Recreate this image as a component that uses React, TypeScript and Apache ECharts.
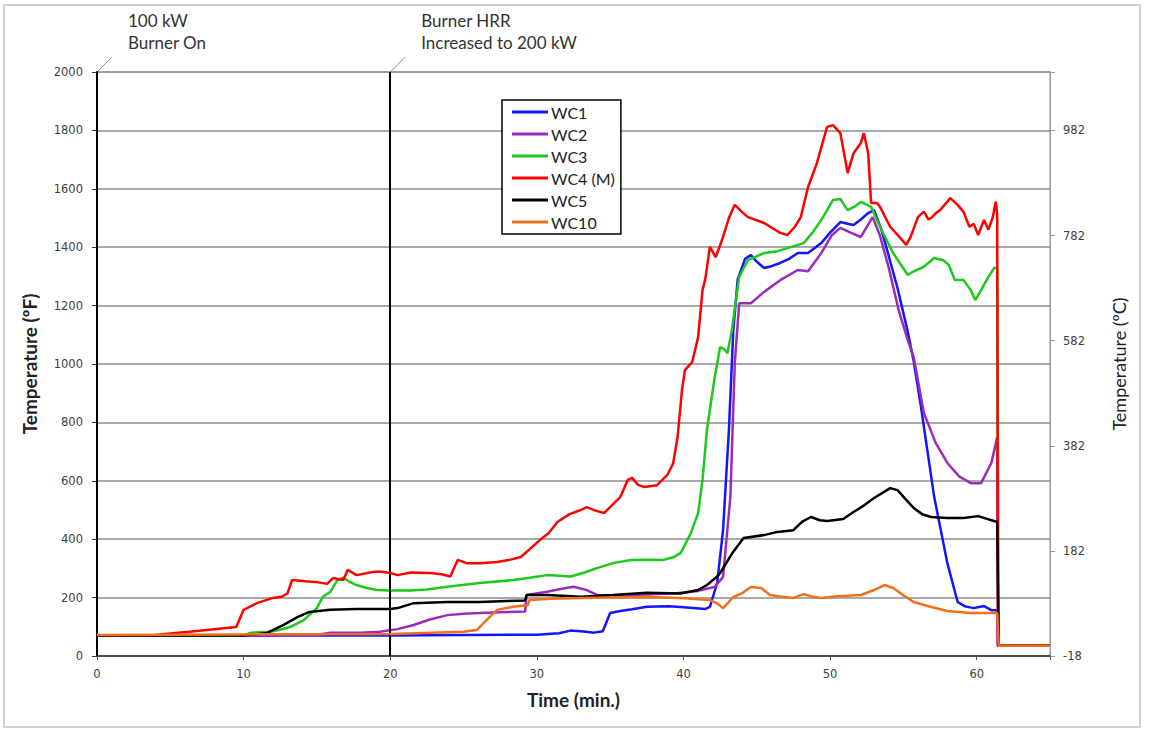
import { useEffect, useRef } from "react";
import * as echarts from "echarts";

// ---------- data ----------
const seriesNames = ["WC1", "WC2", "WC3", "WC4 (M)", "WC5", "WC10"];

const wc1: number[][] = [
  [0, 70], [10, 70], [20, 70], [25, 72], [30, 73], [31.5, 78], [32.3, 87], [33.2, 84], [33.9, 80], [34.5, 85],
  [35, 147], [35.7, 154], [36.5, 160], [37.5, 169], [39, 170], [39.8, 168], [41.5, 161], [41.8, 168], [42.3, 250],
  [42.7, 431], [43.1, 774], [43.4, 1116], [43.7, 1290], [44.2, 1360], [44.6, 1373], [45, 1350], [45.5, 1329],
  [46, 1335], [46.6, 1346], [47.2, 1360], [47.8, 1380], [48.5, 1380], [49.4, 1414], [50, 1450], [50.7, 1486],
  [51.2, 1480], [51.6, 1476], [52.1, 1495], [52.6, 1517], [53, 1527], [53.5, 1460], [54, 1370], [54.6, 1260],
  [55.3, 1110], [55.7, 1010], [56.2, 853], [57.1, 545], [58, 318], [58.7, 185], [59.2, 170], [59.8, 164],
  [60.5, 171], [61, 157], [61.4, 157], [61.45, 35], [65, 35],
];

const wc2: number[][] = [
  [0, 70], [10, 70], [15, 72], [15.9, 80], [18, 80], [19.3, 83], [20.5, 92], [21.6, 106], [22.7, 125], [23.9, 140],
  [25, 145], [26.1, 147], [27.5, 150], [29.2, 152], [29.3, 209], [30.7, 220], [31.7, 230], [32.5, 237], [33.4, 226],
  [34.1, 209], [35.5, 208], [37.5, 211], [39.5, 215], [41, 223], [42.1, 236], [42.7, 270], [43.2, 545], [43.5, 1002],
  [43.8, 1208], [44.6, 1208], [45.5, 1247], [46.6, 1287], [47.8, 1322], [48.5, 1318], [49.4, 1380], [50.1, 1440],
  [50.7, 1466], [51.4, 1450], [52.1, 1435], [52.9, 1503], [53.4, 1440], [54, 1330], [54.7, 1180], [55.3, 1082],
  [55.7, 1024], [56.4, 832], [57.2, 730], [58, 661], [58.8, 615], [59.6, 592], [60.3, 592], [61, 661], [61.4, 750],
  [61.45, 35], [65, 35],
];

const wc3: number[][] = [
  [0, 70], [10, 70], [10.5, 80], [11.8, 83], [12.5, 90], [13.2, 100], [14.1, 123], [15, 164], [15.4, 203], [15.9, 219],
  [16.4, 260], [16.8, 268], [17.2, 255], [17.7, 243], [18.4, 233], [19.1, 226], [20, 224], [21.4, 224], [22.5, 228],
  [23.9, 237], [26.1, 250], [28.4, 260], [29.5, 268], [30.7, 277], [32.3, 272], [33.2, 285], [34.1, 301], [35.2, 318],
  [36.4, 329], [37.5, 330], [38.6, 329], [39.3, 338], [39.8, 352], [40.5, 420], [41, 490], [41.3, 603], [41.6, 774],
  [42.1, 945], [42.5, 1058], [42.8, 1050], [43, 1037], [43.3, 1116], [43.8, 1298], [44.4, 1356], [45.5, 1380],
  [46.3, 1385], [47.1, 1397], [48.2, 1414], [48.8, 1450], [49.4, 1493], [50.2, 1562], [50.7, 1565], [51.2, 1527],
  [51.7, 1540], [52.1, 1555], [52.8, 1538], [53.4, 1470], [54.3, 1380], [55.3, 1305], [55.6, 1315], [56.4, 1333],
  [57.1, 1363], [57.7, 1356], [58.1, 1339], [58.5, 1288], [59.1, 1288], [59.6, 1253], [59.9, 1219], [60.3, 1253],
  [60.8, 1299], [61.2, 1329], [61.4, 1330], [61.5, 35], [65, 35],
];

const wc4: number[][] = [
  [0, 70], [4, 72], [5, 77], [6.3, 83], [8, 92], [9.5, 99], [10, 158], [10.9, 181], [12, 199], [12.6, 203], [13, 215],
  [13.3, 260], [14.2, 256], [15, 253], [15.7, 247], [16.1, 267], [16.8, 260], [17.1, 295], [17.7, 277], [18.8, 288],
  [19.3, 289], [20, 284], [20.5, 277], [21.4, 286], [22.7, 284], [23.5, 280], [24.1, 272], [24.6, 329], [25.2, 318],
  [26.1, 318], [27.3, 322], [28.2, 330], [28.9, 339], [29.5, 365], [30.2, 397], [30.8, 420], [31.4, 459], [32.2, 485],
  [33, 500], [33.4, 510], [34, 498], [34.6, 490], [35.2, 520], [35.7, 545], [36.2, 603], [36.5, 610], [36.9, 586],
  [37.3, 579], [38.2, 585], [38.9, 620], [39.3, 660], [39.6, 750], [39.9, 911], [40.1, 979], [40.6, 1007], [41, 1092],
  [41.3, 1253], [41.5, 1294], [41.8, 1401], [42.2, 1366], [42.7, 1435], [43.1, 1500], [43.5, 1545], [44, 1520],
  [44.4, 1503], [45.5, 1483], [46.6, 1449], [47.1, 1442], [47.6, 1470], [48, 1503], [48.5, 1606], [49.1, 1688],
  [49.5, 1760], [49.8, 1812], [50.2, 1818], [50.7, 1791], [51.2, 1654], [51.6, 1722], [52.1, 1757], [52.3, 1791],
  [52.6, 1722], [52.8, 1551], [53.2, 1551], [53.4, 1539], [54.1, 1470], [54.8, 1431], [55.2, 1408], [55.5, 1436],
  [56, 1504], [56.4, 1522], [56.7, 1495], [56.9, 1500], [57.2, 1516], [57.5, 1527], [57.9, 1550], [58.2, 1568],
  [58.7, 1545], [59.1, 1521], [59.5, 1470], [59.8, 1480], [60.1, 1442], [60.5, 1493], [60.8, 1460], [61.1, 1503],
  [61.3, 1556], [61.4, 1510], [61.45, 35], [65, 35],
];

const wc5: number[][] = [
  [0, 70], [10, 70], [11.6, 79], [12.7, 106], [13.7, 134], [14.5, 151], [15.9, 158], [17.7, 161], [20, 161],
  [20.5, 164], [21.6, 181], [23.9, 185], [26.1, 185], [28, 188], [29.2, 190], [29.3, 209], [30.7, 209], [33, 203],
  [35.2, 209], [37.5, 217], [39.8, 214], [41, 226], [41.6, 243], [42.3, 272], [42.5, 284], [43.3, 350], [44.1, 404],
  [45.5, 414], [46.4, 425], [47.5, 431], [48.1, 460], [48.7, 476], [49.3, 465], [49.8, 462], [50.9, 469], [51.6, 493],
  [52.3, 515], [53, 541], [54.1, 575], [54.6, 568], [55.1, 540], [55.7, 507], [56.3, 485], [56.9, 476], [58, 473],
  [59.1, 473], [60.1, 479], [61.4, 459], [61.5, 35], [65, 35],
];

const wc10: number[][] = [
  [0, 72], [10, 74], [20, 75], [25, 83], [25.9, 89], [26.8, 135], [27.3, 158], [28.4, 169], [29.4, 175], [29.5, 192],
  [31, 196], [33, 199], [35, 200], [37.5, 202], [39.8, 199], [41.8, 192], [42.3, 180], [42.7, 164], [43.4, 202],
  [44, 215], [44.6, 236], [45.3, 233], [45.9, 209], [46.7, 203], [47.5, 199], [48.2, 212], [48.8, 203], [49.4, 199],
  [50.5, 205], [52.1, 209], [53, 226], [53.7, 243], [54.3, 233], [55, 208], [55.7, 185], [56.9, 168], [58, 154],
  [59.6, 147], [61.4, 147], [61.5, 35], [65, 35],
];

const seriesData = [wc1, wc2, wc3, wc4, wc5, wc10];

// axes
const xMin = 0;
const xMax = 65;
const xStep = 10;
const fMin = 0;
const fMax = 2000;
const fStep = 200;
const cOffset = 18; // °C labels: -18, 182, 382 ...

// events
const eventTimes = [0, 20];
const eventLabels = [
  ["100 kW", "Burner On"],
  ["Burner HRR", "Increased to 200 kW"],
];

// styles
const colors = ["#1414ff", "#9a2db8", "#1ec81e", "#ff0000", "#000000", "#f0701e"];
const TXT_FONT = "Lato, 'Open Sans', sans-serif";
const TICK_FONT = "'DejaVu Sans', Verdana, sans-serif";

export default function App() {
  const ref = useRef<HTMLDivElement>(null);

  useEffect(() => {
    if (!ref.current) return;
    const chart = echarts.init(ref.current, null, { renderer: "svg" });

    const series: any[] = seriesNames.map((name, i) => {
      const s: any = {
        name,
        type: "line",
        data: seriesData[i],
        showSymbol: false,
        symbol: "none",
        lineStyle: { color: colors[i], width: 2.5 },
        itemStyle: { color: colors[i] },
        z: 2 + i,
      };
      if (i === 4) {
        s.markLine = {
          silent: true,
          symbol: ["none", "none"],
          label: { show: false },
          lineStyle: { color: "#000", width: 2, type: "solid" },
          data: eventTimes.map((t) => ({ xAxis: t })),
        };
      }
      return s;
    });

    chart.setOption({
      animation: false,
      backgroundColor: "#fff",
      grid: {
        left: 97,
        right: 101,
        top: 72,
        bottom: 74,
        show: true,
        borderColor: "#9a9a9a",
        borderWidth: 1,
      },
      legend: {
        data: seriesNames,
        orient: "vertical",
        left: 502,
        top: 100,
        icon: "rect",
        itemWidth: 36,
        itemHeight: 3,
        itemGap: 4,
        padding: [3, 6, 3, 10],
        borderColor: "#000",
        borderWidth: 1.5,
        backgroundColor: "#fff",
        textStyle: { fontFamily: TXT_FONT, fontSize: 16, color: "#222", lineHeight: 18, padding: [0, 0, 0, -2] },
      },
      xAxis: {
        type: "value",
        min: xMin,
        max: xMax,
        interval: xStep,
        name: "Time (min.)",
        nameLocation: "middle",
        nameGap: 34,
        nameTextStyle: { fontFamily: TXT_FONT, fontSize: 19, fontWeight: "bold", color: "#222" },
        axisLine: { show: true, lineStyle: { color: "#333", width: 1.5 } },
        axisTick: { show: true, length: 4, lineStyle: { color: "#555" } },
        axisLabel: {
          margin: 12,
          fontFamily: TICK_FONT,
          fontSize: 11.5,
          color: "#404040",
          formatter: (v: number) => (v % xStep === 0 ? String(v) : ""),
        },
        splitLine: { show: false },
      },
      yAxis: [
        {
          type: "value",
          min: fMin,
          max: fMax,
          interval: fStep,
          position: "left",
          name: "Temperature (ºF)",
          nameLocation: "middle",
          nameRotate: 90,
          nameGap: 58,
          nameTextStyle: { fontFamily: TXT_FONT, fontSize: 19, fontWeight: "bold", color: "#222" },
          axisLine: { show: true, lineStyle: { color: "#000", width: 2 } },
          axisTick: { show: true, length: 5, lineStyle: { color: "#333" } },
          axisLabel: {
            margin: 14,
            fontFamily: TICK_FONT,
            fontSize: 11.5,
            color: "#404040",
            formatter: (v: number) => String(v),
          },
          splitLine: { show: true, lineStyle: { color: "#8c8c8c", width: 1.5 } },
        },
        {
          type: "value",
          min: 0,
          max: (fMax * 5) / 9,
          interval: fStep,
          position: "right",
          name: "Temperature (ºC)",
          nameLocation: "middle",
          nameRotate: 90,
          nameGap: 60,
          nameTextStyle: { fontFamily: TXT_FONT, fontSize: 18, color: "#222" },
          axisLine: { show: true, lineStyle: { color: "#9a9a9a", width: 1 } },
          axisTick: { show: true, length: 5, lineStyle: { color: "#9a9a9a" } },
          axisLabel: {
            margin: 13,
            fontFamily: TICK_FONT,
            fontSize: 11.5,
            color: "#404040",
            formatter: (v: number) => (Math.abs(v % fStep) < 1e-6 ? String(Math.round(v - cOffset)) : ""),
          },
          splitLine: { show: false },
        },
      ],
      series,
    });

    const graphics: any[] = [
      {
        type: "rect",
        silent: true,
        shape: { x: 4, y: 5, width: 1136, height: 722 },
        style: { fill: "none", stroke: "#c4c4c4", lineWidth: 1.5 },
      },
    ];
    eventTimes.forEach((t, i) => {
      const p = chart.convertToPixel({ gridIndex: 0 }, [t, fMax]) as number[];
      graphics.push({
        type: "line",
        silent: true,
        shape: { x1: p[0], y1: p[1], x2: p[0] + 15, y2: p[1] - 15 },
        style: { stroke: "#8a8a8a", lineWidth: 1 },
      });
      graphics.push({
        type: "text",
        silent: true,
        x: p[0] + 31,
        y: p[1] - 63,
        style: {
          text: eventLabels[i].join("\n"),
          fontFamily: TXT_FONT,
          fontSize: 17,
          lineHeight: 22,
          fill: "#333",
        },
      });
    });
    chart.setOption({ graphic: graphics });

    return () => chart.dispose();
  }, []);

  return (
    <div
      ref={ref}
      style={{ position: "fixed", left: 0, top: 0, width: 1151, height: 730, background: "#fff" }}
    />
  );
}
